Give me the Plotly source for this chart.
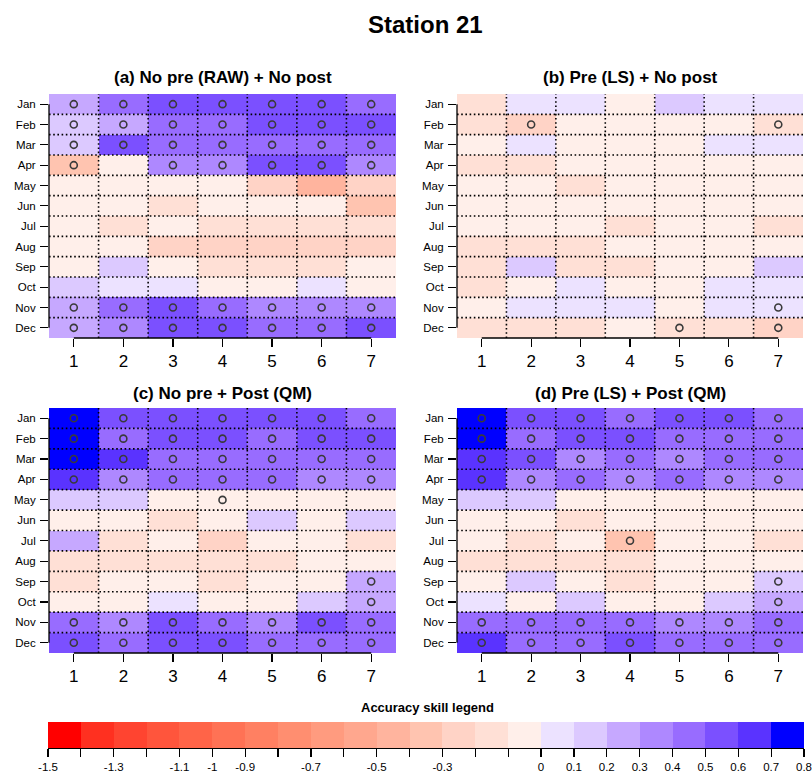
import plotly.graph_objects as go

months = ["Jan", "Feb", "Mar", "Apr", "May", "Jun", "Jul", "Aug", "Sep", "Oct", "Nov", "Dec"]
leads = [1, 2, 3, 4, 5, 6, 7]

main_title = "Station 21"
panel_titles = [
    "(a) No pre (RAW) + No post",
    "(b) Pre (LS) + No post",
    "(c) No pre + Post (QM)",
    "(d) Pre (LS) + Post (QM)",
]
legend_title = "Accuracy skill legend"

# accuracy skill values (rows = months Jan..Dec, columns = lead 1..7)
acc_a = [
    [0.25, 0.45, 0.55, 0.55, 0.55, 0.55, 0.45],
    [0.15, 0.25, 0.45, 0.45, 0.55, 0.55, 0.55],
    [0.15, 0.55, 0.45, 0.45, 0.45, 0.45, 0.45],
    [-0.35, -0.05, 0.35, 0.35, 0.55, 0.55, 0.35],
    [-0.05, -0.05, -0.05, -0.05, -0.25, -0.45, -0.25],
    [-0.05, -0.05, -0.15, -0.05, -0.05, -0.05, -0.35],
    [-0.05, -0.15, -0.05, -0.15, -0.15, -0.15, -0.15],
    [-0.05, -0.05, -0.25, -0.25, -0.25, -0.25, -0.25],
    [-0.05, 0.15, -0.05, -0.15, -0.15, -0.15, -0.05],
    [0.15, 0.05, 0.05, -0.05, -0.05, 0.05, -0.05],
    [0.25, 0.45, 0.55, 0.45, 0.35, 0.35, 0.35],
    [0.25, 0.35, 0.55, 0.55, 0.45, 0.45, 0.55],
]
acc_b = [
    [-0.15, 0.05, 0.05, -0.05, 0.15, 0.05, 0.05],
    [-0.15, -0.25, -0.05, -0.05, -0.05, -0.05, -0.15],
    [-0.05, 0.05, -0.05, -0.05, -0.05, 0.05, 0.05],
    [-0.15, -0.15, -0.05, -0.05, -0.05, -0.05, -0.05],
    [-0.05, -0.05, -0.15, -0.05, -0.05, -0.05, -0.05],
    [-0.05, -0.05, -0.05, -0.05, -0.05, -0.05, -0.05],
    [-0.05, -0.05, -0.05, -0.15, -0.05, -0.05, -0.15],
    [-0.15, -0.15, -0.15, -0.05, -0.05, -0.05, -0.05],
    [-0.15, 0.15, -0.15, -0.15, -0.05, -0.05, 0.15],
    [-0.15, -0.05, 0.05, -0.05, -0.05, 0.05, 0.05],
    [-0.05, 0.05, 0.05, 0.05, -0.05, 0.05, 0.05],
    [-0.15, -0.15, -0.15, -0.05, -0.15, -0.15, -0.25],
]
acc_c = [
    [0.75, 0.55, 0.55, 0.55, 0.55, 0.55, 0.45],
    [0.75, 0.45, 0.55, 0.55, 0.45, 0.55, 0.55],
    [0.75, 0.65, 0.45, 0.45, 0.45, 0.45, 0.45],
    [0.65, 0.35, 0.45, 0.45, 0.45, 0.35, 0.35],
    [0.15, 0.15, -0.05, -0.05, -0.05, -0.05, -0.05],
    [-0.05, -0.05, -0.15, -0.05, 0.15, -0.05, 0.15],
    [0.25, -0.15, -0.05, -0.25, -0.05, -0.05, -0.15],
    [-0.15, -0.15, -0.15, -0.15, -0.15, -0.05, -0.05],
    [-0.15, -0.05, -0.05, -0.15, -0.05, -0.05, 0.25],
    [-0.05, -0.05, 0.05, -0.05, -0.05, 0.15, 0.25],
    [0.45, 0.35, 0.55, 0.45, 0.35, 0.55, 0.45],
    [0.55, 0.45, 0.55, 0.55, 0.45, 0.45, 0.45],
]
acc_d = [
    [0.75, 0.55, 0.55, 0.45, 0.55, 0.55, 0.45],
    [0.75, 0.45, 0.55, 0.55, 0.45, 0.45, 0.45],
    [0.65, 0.55, 0.35, 0.45, 0.35, 0.45, 0.45],
    [0.65, 0.35, 0.45, 0.35, 0.45, 0.35, 0.35],
    [0.15, 0.15, -0.05, -0.05, -0.05, -0.05, -0.05],
    [-0.05, -0.05, -0.15, -0.05, -0.05, -0.05, -0.05],
    [-0.05, -0.15, -0.05, -0.35, -0.05, -0.05, -0.15],
    [-0.15, -0.15, -0.15, -0.15, -0.05, -0.05, -0.05],
    [-0.05, 0.15, -0.05, -0.15, -0.05, -0.05, 0.15],
    [0.05, -0.05, 0.15, -0.05, -0.05, 0.15, 0.25],
    [0.45, 0.45, 0.45, 0.45, 0.35, 0.35, 0.45],
    [0.65, 0.45, 0.45, 0.55, 0.45, 0.45, 0.45],
]

# significance markers (1 = circle drawn)
sig_a = [
    [1, 1, 1, 1, 1, 1, 1], [1, 1, 1, 1, 1, 1, 1], [1, 1, 1, 1, 1, 1, 1], [1, 0, 1, 1, 1, 1, 1],
    [0, 0, 0, 0, 0, 0, 0], [0, 0, 0, 0, 0, 0, 0], [0, 0, 0, 0, 0, 0, 0], [0, 0, 0, 0, 0, 0, 0],
    [0, 0, 0, 0, 0, 0, 0], [0, 0, 0, 0, 0, 0, 0], [1, 1, 1, 1, 1, 1, 1], [1, 1, 1, 1, 1, 1, 1],
]
sig_b = [
    [0, 0, 0, 0, 0, 0, 0], [0, 1, 0, 0, 0, 0, 1], [0, 0, 0, 0, 0, 0, 0], [0, 0, 0, 0, 0, 0, 0],
    [0, 0, 0, 0, 0, 0, 0], [0, 0, 0, 0, 0, 0, 0], [0, 0, 0, 0, 0, 0, 0], [0, 0, 0, 0, 0, 0, 0],
    [0, 0, 0, 0, 0, 0, 0], [0, 0, 0, 0, 0, 0, 0], [0, 0, 0, 0, 0, 0, 1], [0, 0, 0, 0, 1, 0, 1],
]
sig_c = [
    [1, 1, 1, 1, 1, 1, 1], [1, 1, 1, 1, 1, 1, 1], [1, 1, 1, 1, 1, 1, 1], [1, 1, 1, 1, 1, 1, 1],
    [0, 0, 0, 1, 0, 0, 0], [0, 0, 0, 0, 0, 0, 0], [0, 0, 0, 0, 0, 0, 0], [0, 0, 0, 0, 0, 0, 0],
    [0, 0, 0, 0, 0, 0, 1], [0, 0, 0, 0, 0, 0, 1], [1, 1, 1, 1, 1, 1, 1], [1, 1, 1, 1, 1, 1, 1],
]
sig_d = [
    [1, 1, 1, 1, 1, 1, 1], [1, 1, 1, 1, 1, 1, 1], [1, 1, 1, 1, 1, 1, 1], [1, 1, 1, 1, 1, 1, 1],
    [0, 0, 0, 0, 0, 0, 0], [0, 0, 0, 0, 0, 0, 0], [0, 0, 0, 1, 0, 0, 0], [0, 0, 0, 0, 0, 0, 0],
    [0, 0, 0, 0, 0, 0, 1], [0, 0, 0, 0, 0, 0, 1], [1, 1, 1, 1, 1, 1, 1], [1, 1, 1, 1, 1, 1, 1],
]

legend_breaks = [-1.5, -1.4, -1.3, -1.2, -1.1, -1.0, -0.9, -0.8, -0.7, -0.6, -0.5, -0.4,
                 -0.3, -0.2, -0.1, 0.0, 0.1, 0.2, 0.3, 0.4, 0.5, 0.6, 0.7, 0.8]
legend_labels = ["-1.5", "", "-1.3", "", "-1.1", "-1", "-0.9", "", "-0.7", "", "-0.5", "",
                 "-0.3", "", "", "0", "0.1", "0.2", "0.3", "0.4", "0.5", "0.6", "0.7", "0.8"]

bin_colors = [
    "#FF0000", "#FF3020", "#FF4430", "#FF553C", "#FF6448", "#FF7255", "#FF8062",
    "#FF8E70", "#FF9B7F", "#FFA78E", "#FFB49E", "#FFC4B0", "#FFD3C6", "#FFE0D6", "#FFEFEA",
    "#ECE2FF", "#DCC9FF", "#C6A8FF", "#AE88FF", "#986CFF", "#7B50FF", "#5A33FF", "#0000FF",
]

FONT = "Liberation Sans, Arial, Helvetica, sans-serif"
DOT = dict(color="black", width=1.6, dash="1.6px,2.6px")
zmin, zmax = legend_breaks[0], legend_breaks[-1]
nb = len(bin_colors)
colorscale = []
for i, c in enumerate(bin_colors):
    colorscale.append([i / nb, c])
    colorscale.append([(i + 1) / nb, c])

fig = go.Figure()

panels = [(acc_a, sig_a), (acc_b, sig_b), (acc_c, sig_c), (acc_d, sig_d)]
xdoms = [[49 / 812, 396 / 812], [457 / 812, 803 / 812]]
ydoms = [[1 - 338 / 776, 1 - 94 / 776], [1 - 653 / 776, 1 - 408 / 776]]
title_y = [1 - 78 / 776, 1 - 393 / 776]

row_idx = list(range(len(months)))
shapes = []
annotations = []
layout_axes = {}

for k, (acc, sig) in enumerate(panels):
    n = k + 1
    xs = "" if n == 1 else str(n)
    xa, ya = "x" + xs, "y" + xs
    fig.add_trace(go.Heatmap(
        z=acc, x=leads, y=row_idx, colorscale=colorscale, zmin=zmin, zmax=zmax,
        showscale=False, xaxis=xa, yaxis=ya, hoverinfo="skip"))
    px, py = [], []
    for r, row in enumerate(sig):
        for c, s in enumerate(row):
            if s:
                px.append(leads[c])
                py.append(row_idx[r])
    fig.add_trace(go.Scatter(
        x=px, y=py, mode="markers", xaxis=xa, yaxis=ya, showlegend=False, hoverinfo="skip",
        marker=dict(symbol="circle-open", size=7, color="#3a3a3a", line=dict(width=1.6))))
    xd = xdoms[k % 2]
    yd = ydoms[k // 2]
    layout_axes["xaxis" + xs] = dict(
        domain=xd, anchor=ya, range=[leads[0] - 0.5, leads[-1] + 0.5], tickvals=leads,
        ticks="outside", ticklen=8, tickwidth=1.2, tickcolor="black", showgrid=False,
        zeroline=False, showline=False, automargin=False,
        tickfont=dict(size=17, color="black", family=FONT), fixedrange=True)
    layout_axes["yaxis" + xs] = dict(
        domain=yd, anchor=xa, range=[row_idx[-1] + 0.5, row_idx[0] - 0.5], tickvals=row_idx,
        ticktext=months, ticks="outside", ticklen=8, tickwidth=1.2, tickcolor="black",
        showgrid=False, zeroline=False, showline=False, automargin=False, ticklabelstandoff=2,
        tickfont=dict(size=11.5, color="black", family=FONT), fixedrange=True)
    # dotted grid lines at cell boundaries
    for c in range(len(leads) - 1):
        xb = (leads[c] + leads[c + 1]) / 2
        shapes.append(dict(type="line", xref=xa, yref=ya + " domain", x0=xb, x1=xb, y0=0, y1=1,
                           line=DOT))
    for r in range(len(months) - 1):
        yb = (row_idx[r] + row_idx[r + 1]) / 2
        shapes.append(dict(type="line", xref=xa + " domain", yref=ya, x0=0, x1=1, y0=yb, y1=yb,
                           line=DOT))
    # R-style axis lines spanning first to last tick
    shapes.append(dict(type="line", xref=xa + " domain", yref=ya, x0=0, x1=0,
                       y0=row_idx[0], y1=row_idx[-1], line=dict(color="black", width=1.3)))
    shapes.append(dict(type="line", xref=xa, yref=ya + " domain", x0=leads[0], x1=leads[-1],
                       y0=0, y1=0, line=dict(color="black", width=1.3)))
    annotations.append(dict(text="<b>" + panel_titles[k] + "</b>", xref="paper", yref="paper",
                            x=(xd[0] + xd[1]) / 2, y=title_y[k // 2], showarrow=False,
                            font=dict(size=17, color="black", family=FONT),
                            xanchor="center", yanchor="middle"))

# legend color bar
mids = [(legend_breaks[i] + legend_breaks[i + 1]) / 2 for i in range(nb)]
bin_pos = list(range(nb))
fig.add_trace(go.Heatmap(
    z=[mids], x=bin_pos, y=[0], colorscale=colorscale, zmin=zmin, zmax=zmax,
    showscale=False, xaxis="x5", yaxis="y5", hoverinfo="skip"))
layout_axes["xaxis5"] = dict(
    domain=[48 / 812, 804 / 812], anchor="y5", range=[-0.5, nb - 0.5],
    tickvals=[p - 0.5 for p in range(nb + 1)], ticktext=legend_labels,
    ticks="outside", ticklen=8, tickwidth=1.2, tickcolor="black", showline=True,
    linecolor="black", linewidth=1.2, showgrid=False, zeroline=False, tickangle=0,
    automargin=False, tickfont=dict(size=11.5, color="black", family=FONT), fixedrange=True)
layout_axes["yaxis5"] = dict(
    domain=[1 - 748 / 776, 1 - 722 / 776], anchor="x5", range=[-0.5, 0.5],
    showticklabels=False, ticks="", showgrid=False, zeroline=False, showline=False,
    automargin=False, fixedrange=True)

annotations.append(dict(text="<b>" + main_title + "</b>", xref="paper", yref="paper",
                        x=425 / 812, y=1 - 25 / 776, showarrow=False,
                        font=dict(size=24, color="black", family=FONT),
                        xanchor="center", yanchor="middle"))
annotations.append(dict(text="<b>" + legend_title + "</b>", xref="paper", yref="paper",
                        x=427 / 812, y=1 - 707 / 776, showarrow=False,
                        font=dict(size=13, color="black", family=FONT),
                        xanchor="center", yanchor="middle"))

fig.update_layout(
    width=812, height=776, margin=dict(l=0, r=0, t=0, b=0, autoexpand=False),
    paper_bgcolor="white", plot_bgcolor="white", showlegend=False,
    font=dict(family=FONT, color="black"),
    shapes=shapes, annotations=annotations, **layout_axes)

fig.write_html(
    "out.html",
    config={"displayModeBar": False, "staticPlot": True},
    post_script="document.body.style.margin='0';document.body.style.overflow='hidden';",
)
